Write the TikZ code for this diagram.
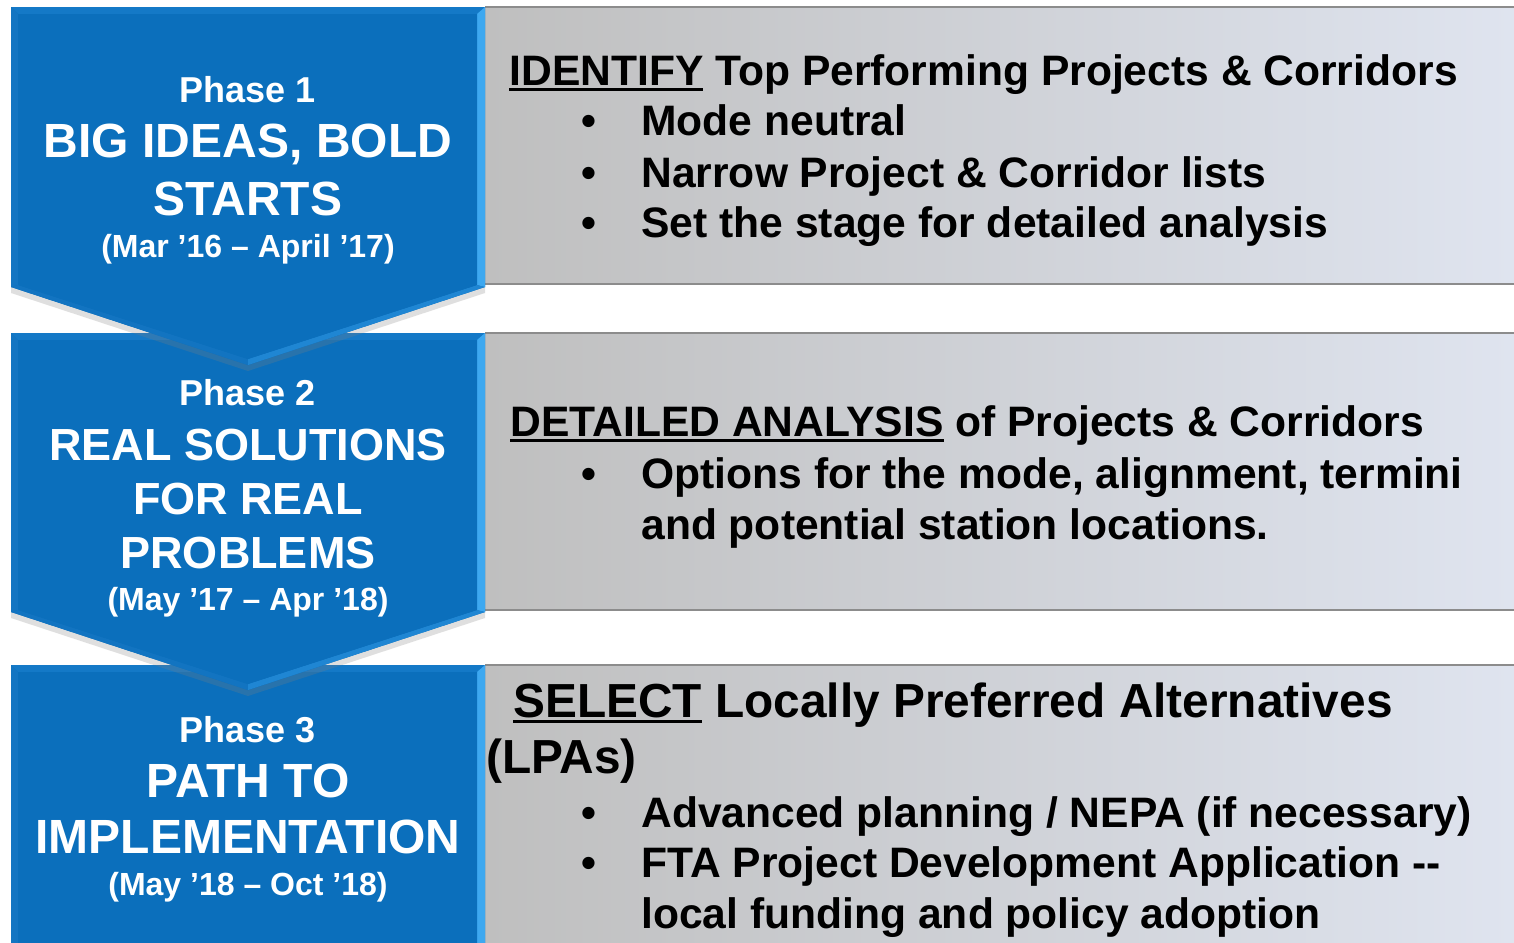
\documentclass[tikz,border=0pt]{standalone}
\usepackage{fontspec}
\setmainfont{Liberation Sans}
\usetikzlibrary{shadows}
\definecolor{chevblue}{HTML}{0B6FBC}
\definecolor{bevright}{HTML}{3DA8F0}
\definecolor{bevtop}{HTML}{1479C7}
\definecolor{bevleft}{HTML}{1375C2}
\definecolor{bevbl}{HTML}{1274C1}
\definecolor{bevbr}{HTML}{1F86D3}
\definecolor{boxleft}{HTML}{BFBFBF}
\definecolor{boxmid}{HTML}{D9DADC}
\definecolor{boxright}{HTML}{DFE4EF}
\definecolor{boxline}{HTML}{8C8C8C}
\newcommand\ulbar[1]{\setbox0\hbox{#1}\rlap{\rule[-3pt]{\wd0}{1.4pt}}\box0\relax}
\newcommand\chevron[3]{%
  \fill[chevblue, drop shadow={opacity=0.25, shadow xshift=0pt, shadow yshift=-3pt}]
    (11,#1) -- (485,#1) -- (485,#2) -- (248,#3) -- (11,#2) -- cycle;
  \fill[bevtop] (11,#1) -- (485,#1) -- (477,#1+7) -- (18,#1+7) -- cycle;
  \fill[bevleft] (11,#1) -- (18,#1+7) -- (18,#2-2) -- (11,#2) -- cycle;
  \fill[bevright] (485,#1) -- (485,#2) -- (477,#2-2) -- (477,#1+7) -- cycle;
  \fill[bevbl] (11,#2) -- (18,#2-2) -- (248,#3-6) -- (248,#3) -- cycle;
  \fill[bevbr] (485,#2) -- (477,#2-2) -- (248,#3-6) -- (248,#3) -- cycle;
  \fill[chevblue] (18,#1+7) -- (477,#1+7) -- (477,#2-2) -- (248,#3-6) -- (18,#2-2) -- cycle;
}
\newcommand\greybox[2]{%
  \shade[left color=boxleft, middle color=boxmid, right color=boxright] (485,#1) rectangle (1514,#2);
  \draw[boxline, line width=1pt] (485,#1) -- (1514,#1) (485,#2) -- (1514,#2);
}
\tikzset{
  phase/.style={text=white, font=\bfseries\fontsize{18}{20}\selectfont, anchor=base, inner sep=0pt},
  big/.style={phase, font=\bfseries\fontsize{24}{26}\selectfont},
  bigb/.style={phase, font=\bfseries\fontsize{22.5}{26}\selectfont},
  date/.style={phase, font=\bfseries\fontsize{16}{18}\selectfont},
  rtxt/.style={anchor=base west, inner sep=0pt, font=\bfseries\fontsize{21.3}{24}\selectfont},
  rbig/.style={rtxt, font=\bfseries\fontsize{23.9}{26}\selectfont},
}
\begin{document}
\begin{tikzpicture}[x=0.5pt, y=-0.5pt]
\useasboundingbox (0,0) rectangle (1514,942);
\clip (0,0) rectangle (1514,942);
\fill[white] (0,0) rectangle (1514,942);
% row 3
\greybox{665}{960}
\chevron{665}{960}{1000}
% row 2
\greybox{333}{610}
\chevron{333}{612}{690}
% row 1
\greybox{7}{284}
\chevron{7}{287}{365}

% chevron texts
\node[phase] (p1a) at (248,102) {Phase 1};
\node[big]   (p1b) at (248,157) {BIG IDEAS, BOLD};
\node[big]   (p1c) at (248,215) {STARTS};
\node[date]  (p1d) at (248,257) {(Mar ’16 – April ’17)};

\node[phase] (p2a) at (248,405) {Phase 2};
\node[bigb]  (p2b) at (248,460) {REAL SOLUTIONS};
\node[bigb]  (p2c) at (248,514) {FOR REAL};
\node[bigb]  (p2d) at (248,568) {PROBLEMS};
\node[date]  (p2e) at (248,610) {(May ’17 – Apr ’18)};

\node[phase] (p3a) at (248,742) {Phase 3};
\node[big]   (p3b) at (248,797) {PATH TO};
\node[big]   (p3c) at (248,853) {IMPLEMENTATION};
\node[date]  (p3d) at (248,895) {(May ’18 – Oct ’18)};

% box 1 texts
\node[rtxt] (t1) at (509,85) {\ulbar{IDENTIFY} Top Performing Projects \& Corridors};
\node[rtxt] (b1a) at (581,135) {•};
\node[rtxt] (l1a) at (641,135) {Mode neutral};
\node[rtxt] (b1b) at (581,187) {•};
\node[rtxt] (l1b) at (641,187) {Narrow Project \& Corridor lists};
\node[rtxt] (b1c) at (581,237) {•};
\node[rtxt] (l1c) at (641,237) {Set the stage for detailed analysis};

% box 2 texts
\node[rtxt] (t2) at (510,436) {\ulbar{DETAILED ANALYSIS} of Projects \& Corridors};
\node[rtxt] (b2a) at (581,488) {•};
\node[rtxt] (l2a) at (641,488) {Options for the mode, alignment, termini};
\node[rtxt] (l2b) at (641,539) {and potential station locations.};

% box 3 texts
\node[rbig] (t3a) at (513,717) {\ulbar{SELECT} Locally Preferred Alternatives};
\node[rbig] (t3b) at (486,773) {(LPAs)};
\node[rtxt] (b3a) at (581,827) {•};
\node[rtxt] (l3a) at (641,827) {Advanced planning / NEPA (if necessary)};
\node[rtxt] (b3b) at (581,877) {•};
\node[rtxt] (l3b) at (641,877) {FTA Project Development Application -{}-};
\node[rtxt] (l3c) at (641,928) {local funding and policy adoption};
\end{tikzpicture}
\end{document}
